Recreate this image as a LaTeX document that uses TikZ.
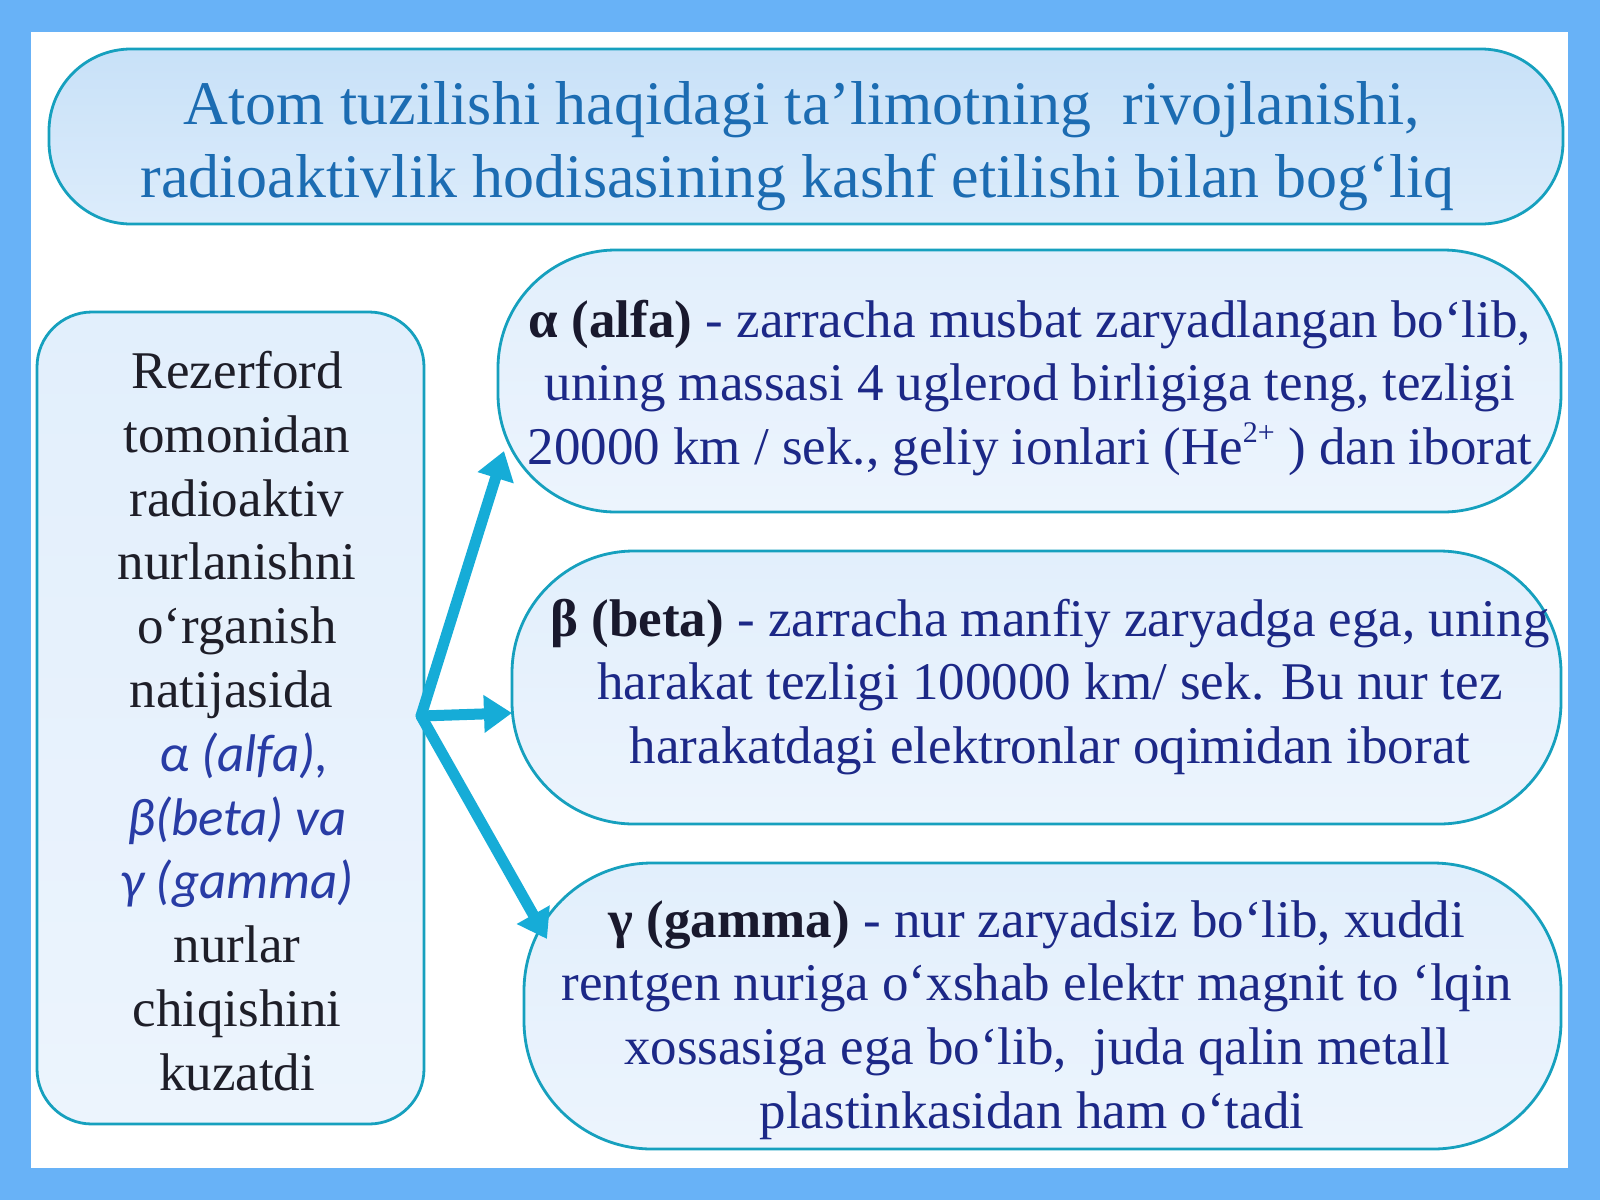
\documentclass[tikz,border=0pt]{standalone}
\usepackage{fontspec}
\setmainfont{Liberation Serif}
\newfontfamily\italfont{Carlito}
\usetikzlibrary{arrows.meta}
\definecolor{bgblue}{RGB}{104,178,247}
\definecolor{boxline}{RGB}{22,160,190}
\definecolor{titletop}{RGB}{200,225,248}
\definecolor{titlebot}{RGB}{220,236,251}
\definecolor{boxtop}{RGB}{226,239,252}
\definecolor{boxbot}{RGB}{236,244,253}
\definecolor{titletext}{RGB}{28,108,178}
\definecolor{bodytext}{RGB}{28,40,135}
\definecolor{termtext}{RGB}{25,25,45}
\definecolor{lefttext}{RGB}{30,30,40}
\definecolor{italtext}{RGB}{40,60,165}
\definecolor{arrowc}{RGB}{22,172,215}
\tikzset{
  panel/.style={draw=boxline, line width=2.8pt, top color=boxtop, bottom color=boxbot, inner sep=0pt},
  bodyfont/.style={font=\fontsize{53}{63.8}\selectfont, align=center, inner sep=0pt},
  ray/.style={draw=arrowc, line width=11pt, line cap=round, -{Triangle[length=28pt,width=36pt]}}
}
\newcommand{\supsmall}[1]{\raisebox{0.42em}{\fontsize{30}{30}\selectfont #1}}
\begin{document}
\begin{tikzpicture}[x=1pt,y=-1pt]
\useasboundingbox (0,0) rectangle (1600,1200);
\fill[bgblue] (0,0) rectangle (1600,1200);
\fill[white] (31,32) rectangle (1568,1168);

% boxes
\node[panel, top color=titletop, bottom color=titlebot, rounded corners=82pt,
      minimum width=1514pt, minimum height=175pt] (title) at (806,136.5) {};
\node[panel, rounded corners=55pt, minimum width=387pt, minimum height=812pt] (left) at (230.5,718) {};
\node[panel, rounded corners=118pt, minimum width=1063pt, minimum height=262pt] (alpha) at (1029.5,381) {};
\node[panel, rounded corners=122pt, minimum width=1049pt, minimum height=273pt] (beta) at (1036.5,687.5) {};
\node[panel, rounded corners=128pt, minimum width=1037pt, minimum height=286pt] (gamma) at (1042.5,1006) {};

% texts
\node[font=\fontsize{62}{72.5}\selectfont, align=center, inner sep=0pt, text=titletext] (titletxt) at (802,146)
  {Atom tuzilishi haqidagi ta’limotning\ \ rivojlanishi,\\ \hspace*{-9pt}radioaktivlik hodisasining kashf etilishi bilan bog‘liq};

\node[bodyfont, text=lefttext] (lefttxt) at (237,721)
  {Rezerford\\ tomonidan\\ radioaktiv\\ nurlanishni\\ o‘rganish\\ \hspace*{-11pt}natijasida\\
   {\italfont\itshape\color{italtext}\hspace*{14pt}α (alfa),}\\
   {\italfont\itshape\color{italtext}β(beta) va}\\
   {\italfont\itshape\color{italtext}γ (gamma)}\\
   nurlar\\ chiqishini\\ kuzatdi};

\node[bodyfont, text=bodytext] (alphatxt) at (1030,388)
  {{\bfseries\color{termtext}α (alfa)} - zarracha musbat zaryadlangan bo‘lib,\\
   uning massasi 4 uglerod birligiga teng, tezligi\\
   20000 km / sek., geliy ionlari (He\supsmall{2+} ) dan iborat};

\node[bodyfont, text=bodytext] (betatxt) at (1050,687)
  {{\bfseries\color{termtext}β (beta)} - zarracha manfiy zaryadga ega, uning\\
   harakat tezligi 100000 km/ sek. Bu nur tez\\
   harakatdagi elektronlar oqimidan iborat};

\node[bodyfont, text=bodytext] (gammatxt) at (1037,1020)
  {{\bfseries\color{termtext}γ (gamma)} - nur zaryadsiz bo‘lib, xuddi\\
   rentgen nuriga o‘xshab elektr magnit to ‘lqin\\
   xossasiga ega bo‘lib,\ \ juda qalin metall\\
   \hspace*{-10pt}plastinkasidan ham o‘tadi};

% arrows
\coordinate (src) at (421,716);
\coordinate (ta) at (504,451);
\coordinate (tb) at (512,713);
\coordinate (tg) at (547,939);
\draw[ray] (src) -- (ta);
\draw[ray] (src) -- (tb);
\draw[ray] (src) -- (tg);
\end{tikzpicture}
\end{document}
